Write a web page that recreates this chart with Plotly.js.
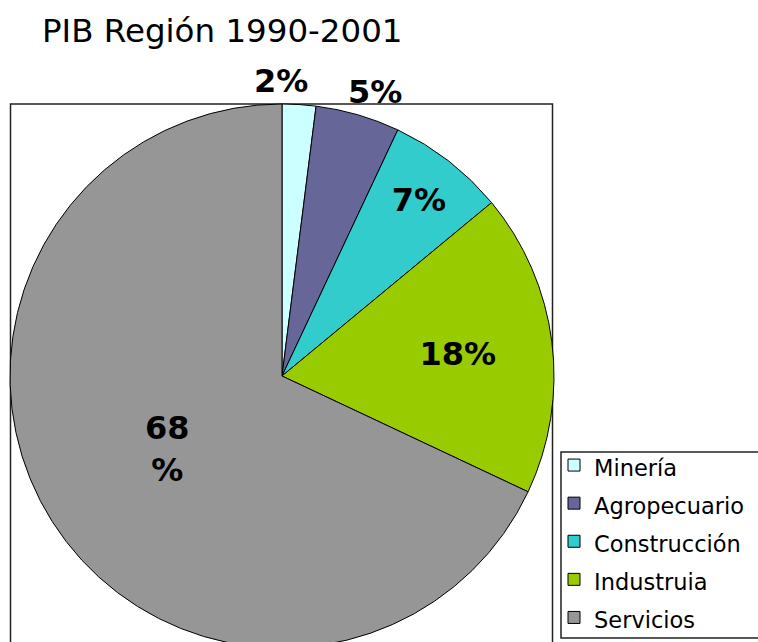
<!DOCTYPE html>
<html>
<head>
<meta charset="utf-8">
<script src="https://cdn.plot.ly/plotly-3.0.1.min.js"></script>
<style>
html, body { margin: 0; padding: 0; overflow: hidden; background: #fff; }
#chart { width: 758px; height: 660px; }
</style>
</head>
<body>
<div id="chart"></div>
<script>
const categories = ["Minería", "Agropecuario", "Construcción", "Industruia", "Servicios"];
const values = [2, 5, 7, 18, 68];
const colors = ["#CCFFFF", "#666699", "#33CCCC", "#99CC00", "#969696"];
const outsideLabel = [true, true, false, false, false];
const titleText = "PIB Región 1990-2001";

const W = 758, H = 660;
// pie geometry (pixels)
const cx = 282, cy = 376, R = 272;
// small horizontal nudges of the outside labels so they do not collide
const outsideNudge = [-20, 10, 0, 0, 0];
const total = values.reduce((a, b) => a + b, 0);
const pctText = values.map((v, i) => i === values.length - 1 ? v + "<br>%" : v + "%");

// outside labels placed along the slice's middle angle, just beyond the rim
const annotations = [];
let cum = 0;
values.forEach((v, i) => {
  const mid = (cum + v / 2) / total * 2 * Math.PI;
  cum += v;
  if (!outsideLabel[i]) return;
  const d = R + 24;
  annotations.push({
    xref: "paper", yref: "paper",
    x: (cx + d * Math.sin(mid)) / W,
    y: 1 - (cy - d * Math.cos(mid)) / H,
    xshift: outsideNudge[i],
    xanchor: "center", yanchor: "middle",
    text: pctText[i], showarrow: false,
    font: { family: "DejaVu Sans", size: 32, color: "#000", weight: "bold" }
  });
});

const trace = {
  type: "pie",
  labels: categories.map(c => '<span style="font-size:22.5px">' + c + '</span>'),
  values: values,
  sort: false,
  direction: "clockwise",
  rotation: 0,
  text: pctText,
  textinfo: "text",
  texttemplate: outsideLabel.map(o => o ? "" : "%{text}"),
  textposition: outsideLabel.map(o => o ? "none" : "inside"),
  insidetextorientation: "horizontal",
  textfont: { family: "DejaVu Sans", size: 32, color: "#000", weight: "bold" },
  marker: { colors: colors, line: { color: "#000", width: 1 } },
  domain: { x: [(cx - R) / W, (cx + R) / W], y: [1 - (cy + R) / H, 1 - (cy - R) / H] },
  hoverinfo: "none"
};

const layout = {
  width: W, height: H,
  margin: { l: 0, r: 0, t: 0, b: 0, autoexpand: false },
  paper_bgcolor: "#fff",
  font: { family: "DejaVu Sans", color: "#000" },
  title: {
    text: titleText,
    font: { family: "DejaVu Sans", size: 32.5, color: "#000" },
    x: 42 / W, xanchor: "left", xref: "paper",
    y: 1 - 31 / H, yanchor: "middle", yref: "paper"
  },
  showlegend: true,
  legend: {
    x: 554 / W, xanchor: "left",
    y: 1 - 441 / H, yanchor: "top",
    font: { family: "DejaVu Sans", size: 27, color: "#000" },
    borderwidth: 0,
    bgcolor: "rgba(0,0,0,0)",
    traceorder: "normal"
  },
  annotations: annotations,
  shapes: [
    {
      type: "rect", xref: "paper", yref: "paper",
      x0: 10.5 / W, x1: 552.5 / W, y0: 1 - 104 / H, y1: -0.1,
      line: { color: "#222", width: 1.5 }, layer: "below"
    },
    {
      type: "rect", xref: "paper", yref: "paper",
      x0: 561 / W, x1: 780 / W, y0: 1 - 452 / H, y1: 1 - 638 / H,
      line: { color: "#222", width: 1.5 }, fillcolor: "#fff", layer: "below"
    }
  ]
};

Plotly.newPlot("chart", [trace], layout, { displayModeBar: false, staticPlot: true });
</script>
</body>
</html>
